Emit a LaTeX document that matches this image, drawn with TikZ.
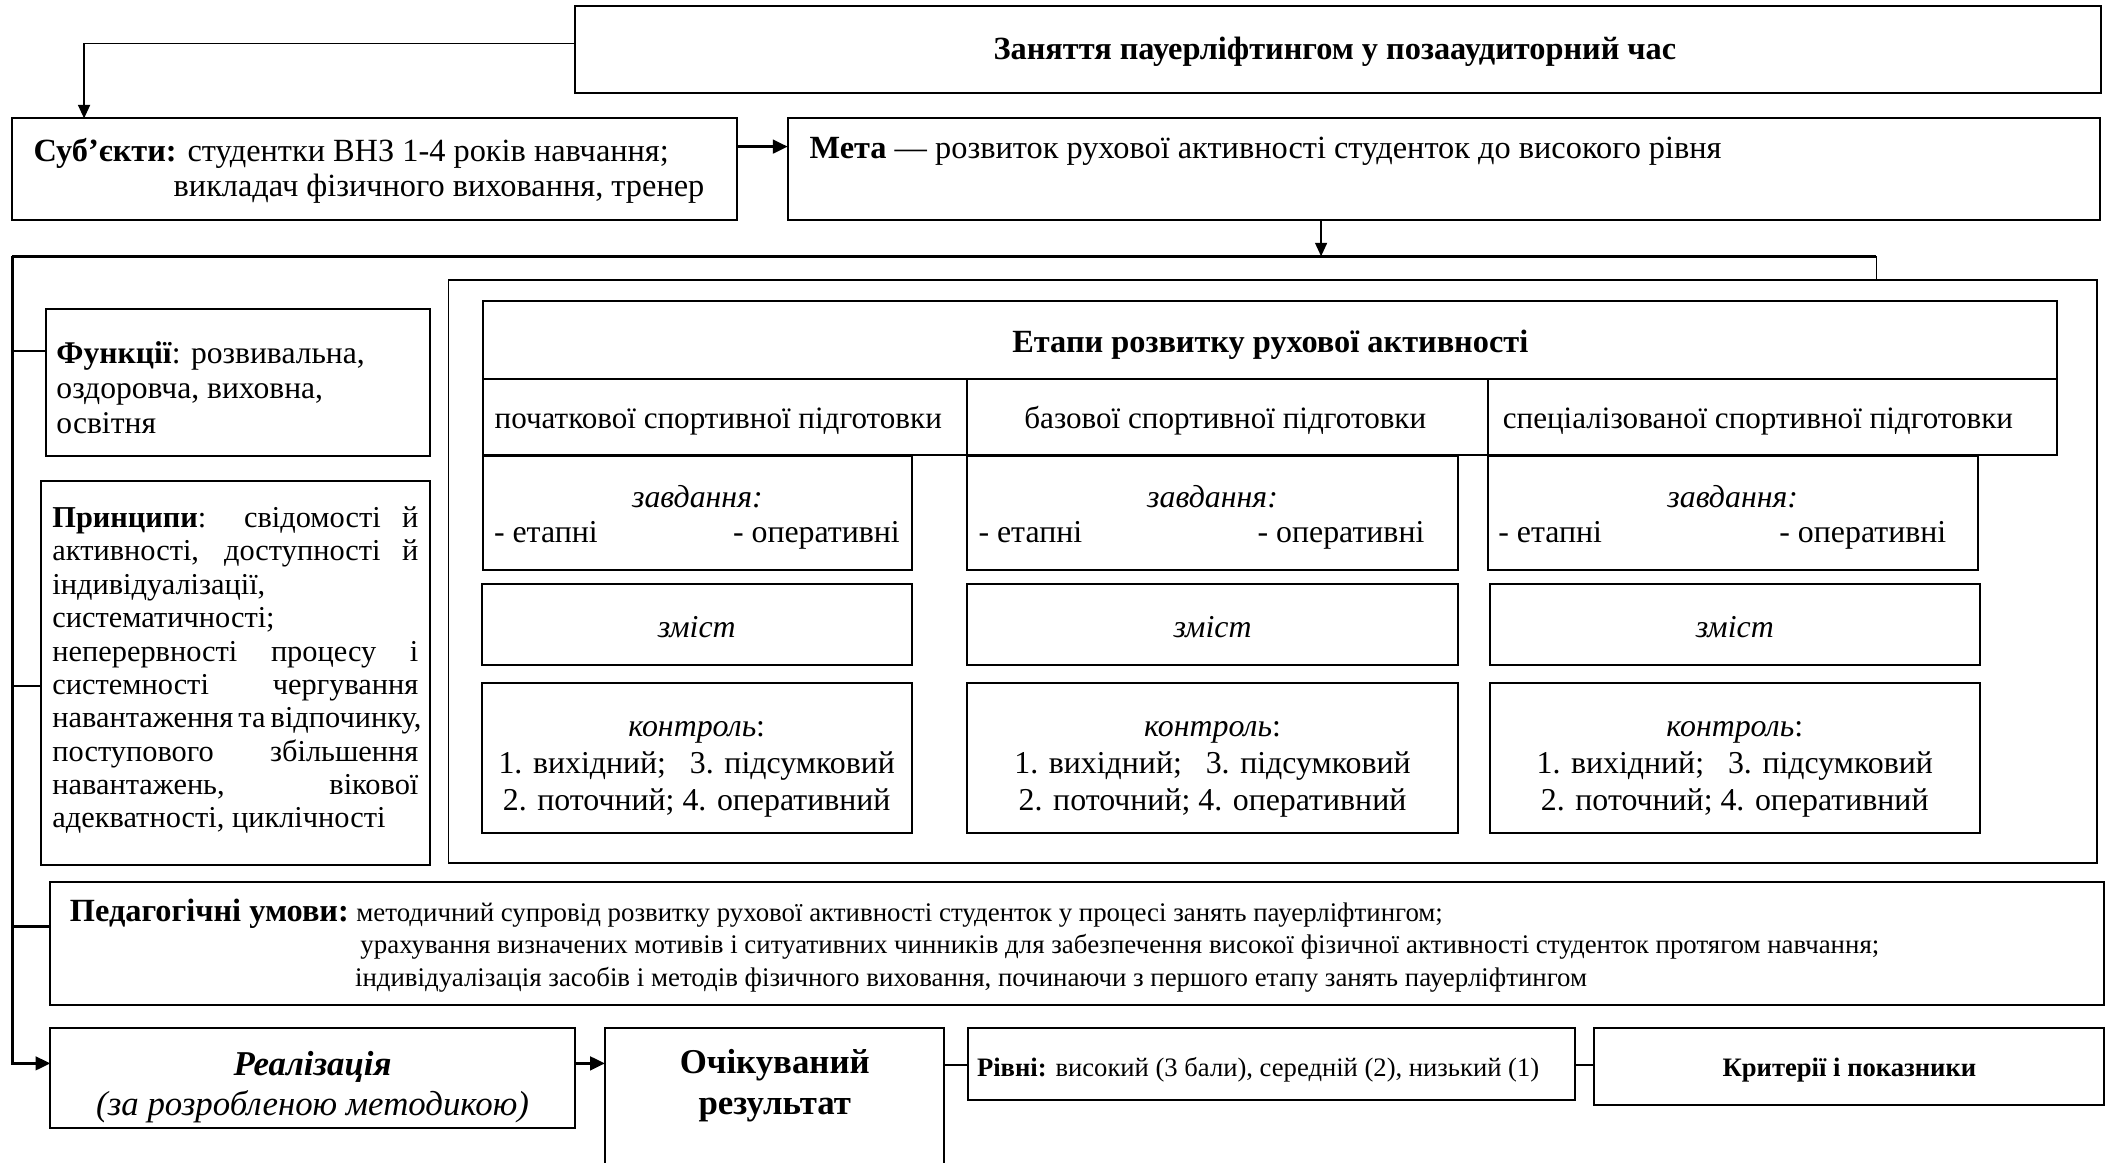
\documentclass[tikz,border=0pt]{standalone}
\usepackage{fontspec}
\setmainfont{Liberation Serif}
\usetikzlibrary{arrows.meta,calc}

\newcommand\fzA{\fontsize{12.5}{14}\selectfont}
\newcommand\fzAA{\fontsize{13}{14.5}\selectfont}
\newcommand\fzB{\fontsize{12.8}{14.87}\selectfont}
\newcommand\fzFn{\fontsize{12.7}{14}\selectfont}
\newcommand\fzPr{\fontsize{12.2}{13.4}\selectfont}
\newcommand\fzC{\fontsize{10.8}{12}\selectfont}
\newcommand\fzD{\fontsize{10.7}{12}\selectfont}
\newcommand\fzE{\fontsize{14}{16}\selectfont}

\tikzset{
  bx/.style={draw, line width=0.8pt, inner sep=0pt, outer sep=0pt},
  cbx/.style={draw, line width=0.6pt, inner sep=0pt, outer sep=0pt},
  nbx/.style={inner sep=0pt, outer sep=0pt},
  tx/.style={inner sep=0pt, outer sep=0pt},
  arr/.style={line width=0.6pt, -{Triangle[length=0.19cm,width=0.17cm]}},
  barr/.style={line width=1.2pt, -{Triangle[length=0.21cm,width=0.19cm]}},
  ln/.style={line width=0.6pt},
  bln/.style={line width=1.2pt},
}

\newcommand\mybox[6][bx]{%
  \pgfmathsetmacro\bw{(#5-#3)*0.019}%
  \pgfmathsetmacro\bh{(#6-#4)*0.019}%
  \node[#1, minimum width=\bw cm, minimum height=\bh cm] (#2) at ({(#3+#5)/2},{(#4+#6)/2}) {};}

\newcommand\taskbox[5]{% name x1 x2 lx rx
  \mybox{#1}{#2}{339}{#3}{424}
  \node[tx, anchor=mid, font=\fzB\itshape] (#1z) at ({(#2+#3)/2},372.8) {завдання:};
  \node[tx, anchor=mid west, font=\fzB] (#1l) at (#4,398.8) {- етапні};
  \node[tx, anchor=mid east, font=\fzB] (#1r) at (#5,398.8) {- оперативні};}

\newcommand\contbox[3]{% name x1 x2
  \mybox{#1s}{#2}{434.4}{#3}{494.6}
  \node[tx, anchor=mid, font=\fzB\itshape] (#1st) at ({(#2+#3)/2},470) {зміст};
  \mybox{#1k}{#2}{508}{#3}{619}
  \node[tx, align=center, font=\fzB] (#1kt) at ({(#2+#3)/2},572) {\textit{контроль}:\\1. вихідний;\ \ \ 3. підсумковий\\2. поточний; 4. оперативний};}

\newlength\prw
\setlength\prw{5.168cm}

\begin{document}
\begin{tikzpicture}[x=0.019cm, y=-0.019cm]
\useasboundingbox (0,0) rectangle (1568,864);
\fill[white] (0,0) rectangle (1568,864);

% coordinates for connector levels
\coordinate (y32) at (0,32.2);
\coordinate (xa) at (62.5,0);
\coordinate (y109) at (0,109);
\coordinate (xm) at (982.2,0);
\coordinate (busL) at (9,190.5);
\coordinate (busR) at (1395,190.5);
\coordinate (yf) at (0,261);
\coordinate (yp) at (0,510);
\coordinate (yped) at (0,689);
\coordinate (yreal) at (0,790.6);
\coordinate (ylev) at (0,791.8);

% top
\mybox{top}{427.3}{4.5}{1562}{69.4}
\node[tx, anchor=mid, font=\fzAA\bfseries] (topt) at (992.5,40) {Заняття пауерліфтингом у позааудиторний час};

% subjects and goal
\mybox{subj}{9}{88}{548}{163.5}
\node[tx, anchor=mid west, font=\fzAA] (s1) at (25,115.5) {\textbf{Суб’єкти:} студентки ВНЗ 1-4 років навчання;};
\node[tx, anchor=mid east, font=\fzAA] (s2) at (523.7,142) {викладач фізичного виховання, тренер};

\mybox{meta}{585.7}{88}{1561}{163.5}
\node[tx, anchor=mid west, font=\fzAA] (mt) at (602,113.5) {\textbf{Мета} — розвиток рухової активності студенток до високого рівня};

% container
\mybox[cbx]{cont}{333.5}{208}{1559}{641.5}

% functions
\mybox{func}{34}{230}{320}{339}
\node[tx, anchor=mid west, font=\fzFn] (f1) at (42,266) {\textbf{Функції}: розвивальна,};
\node[tx, anchor=mid west, font=\fzFn] (f2) at (42,292) {оздоровча, виховна,};
\node[tx, anchor=mid west, font=\fzFn] (f3) at (42,318) {освітня};

% principles
\mybox{princ}{30.5}{357.4}{320}{643}
\node[tx, anchor=mid west, font=\fzPr] (p01) at (39,388.0) {\makebox[\prw][s]{\textbf{Принципи}: свідомості й}};
\node[tx, anchor=mid west, font=\fzPr] (p02) at (39,412.8) {\makebox[\prw][s]{активності, доступності й}};
\node[tx, anchor=mid west, font=\fzPr] (p03) at (39,437.6) {індивідуалізації,};
\node[tx, anchor=mid west, font=\fzPr] (p04) at (39,462.4) {систематичності;};
\node[tx, anchor=mid west, font=\fzPr] (p05) at (39,487.2) {\makebox[\prw][s]{неперервності процесу і}};
\node[tx, anchor=mid west, font=\fzPr] (p06) at (39,512.0) {\makebox[\prw][s]{системності чергування}};
\node[tx, anchor=mid west, font=\fzPr] (p07) at (39,536.8) {\makebox[\prw][s]{навантаження та відпочинку,}};
\node[tx, anchor=mid west, font=\fzPr] (p08) at (39,561.6) {\makebox[\prw][s]{поступового збільшення}};
\node[tx, anchor=mid west, font=\fzPr] (p09) at (39,586.4) {\makebox[\prw][s]{навантажень, вікової}};
\node[tx, anchor=mid west, font=\fzPr] (p10) at (39,611.2) {адекватності, циклічності};

% stages table
\mybox{head}{359}{223.8}{1529}{281.7}
\node[tx, anchor=mid, font=\fzAA\bfseries] (headt) at (944.5,258) {Етапи розвитку рухової активності};
\mybox{cA}{359}{281.7}{719}{338}
\mybox{cB}{719}{281.7}{1106}{338}
\mybox{cC}{1106}{281.7}{1529}{338}
\node[tx, anchor=mid, font=\fzA] (cAt) at (534,314) {початкової спортивної підготовки};
\node[tx, anchor=mid, font=\fzA] (cBt) at (911,314) {базової спортивної підготовки};
\node[tx, anchor=mid, font=\fzA] (cCt) at (1307,314) {спеціалізованої спортивної підготовки};

\taskbox{tA}{359}{678}{367.3}{669}
\taskbox{tB}{719}{1084}{727.5}{1059}
\taskbox{tC}{1106}{1470.5}{1114}{1447}

\contbox{kA}{358}{678}
\contbox{kB}{719}{1084}
\contbox{kC}{1107.5}{1472}

% pedagogical conditions
\mybox{ped}{37.5}{655.5}{1564}{747.2}
\node[tx, anchor=mid west, font=\fzAA\bfseries] (pedl) at (52,680.5) {Педагогічні умови:};
\node[tx, anchor=mid west, font=\fzC] (ped1) at (265,680.5) {методичний супровід розвитку рухової активності студенток у процесі занять пауерліфтингом;};
\node[tx, anchor=mid west, font=\fzC] (ped2) at (268,705) {урахування визначених мотивів і ситуативних чинників для забезпечення високої фізичної активності студенток протягом навчання;};
\node[tx, anchor=mid west, font=\fzC] (ped3) at (264,729) {індивідуалізація засобів і методів фізичного виховання, починаючи з першого етапу занять пауерліфтингом};

% bottom row
\mybox{real}{37.5}{764.5}{427.3}{838.9}
\node[tx, anchor=mid, font=\fzE\bfseries\itshape] (rt1) at (232.4,795) {Реалізація};
\node[tx, anchor=mid, font=\fzE\itshape] (rt2) at (232.4,825) {(за розробленою методикою)};

\mybox[nbx]{exp}{449.8}{764.5}{702}{870}
\draw[line width=0.8pt] (exp.south west) -- (exp.north west) -- (exp.north east) -- (exp.south east);
\node[tx, anchor=mid, font=\fzE\bfseries] (et1) at (576,794) {Очікуваний};
\node[tx, anchor=mid, font=\fzE\bfseries] (et2) at (576,824) {результат};

\mybox{lev}{719.6}{764.5}{1170.7}{817.8}
\node[tx, anchor=mid west, font=\fzD] (levt) at (726.4,795.8) {\textbf{Рівні:} високий (3 бали), середній (2), низький (1)};

\mybox{crit}{1185}{764.5}{1564}{821.5}
\node[tx, anchor=mid, font=\fzD\bfseries] (critt) at (1375,796) {Критерії і показники};

% connectors
\draw[arr] (top.west |- y32) -| (subj.north -| xa);
\draw[barr] (subj.east |- y109) -- (meta.west |- y109);
\draw[arr] (meta.south -| xm) -- (busL -| xm);
\draw[bln] (busL) -- (busR);
\draw[ln] (busR) -- (busR |- cont.north);
\draw[ln] (busL |- yf) -- (func.west |- yf);
\draw[ln] (busL |- yp) -- (princ.west |- yp);
\draw[bln] (busL |- yped) -- (ped.west |- yped);
\draw[barr] (busL) |- (real.west |- yreal);
\draw[barr] (real.east |- yreal) -- (exp.west |- yreal);
\draw[bln] (exp.east |- ylev) -- (lev.west |- ylev);
\draw[bln] (lev.east |- ylev) -- (crit.west |- ylev);
\end{tikzpicture}
\end{document}
